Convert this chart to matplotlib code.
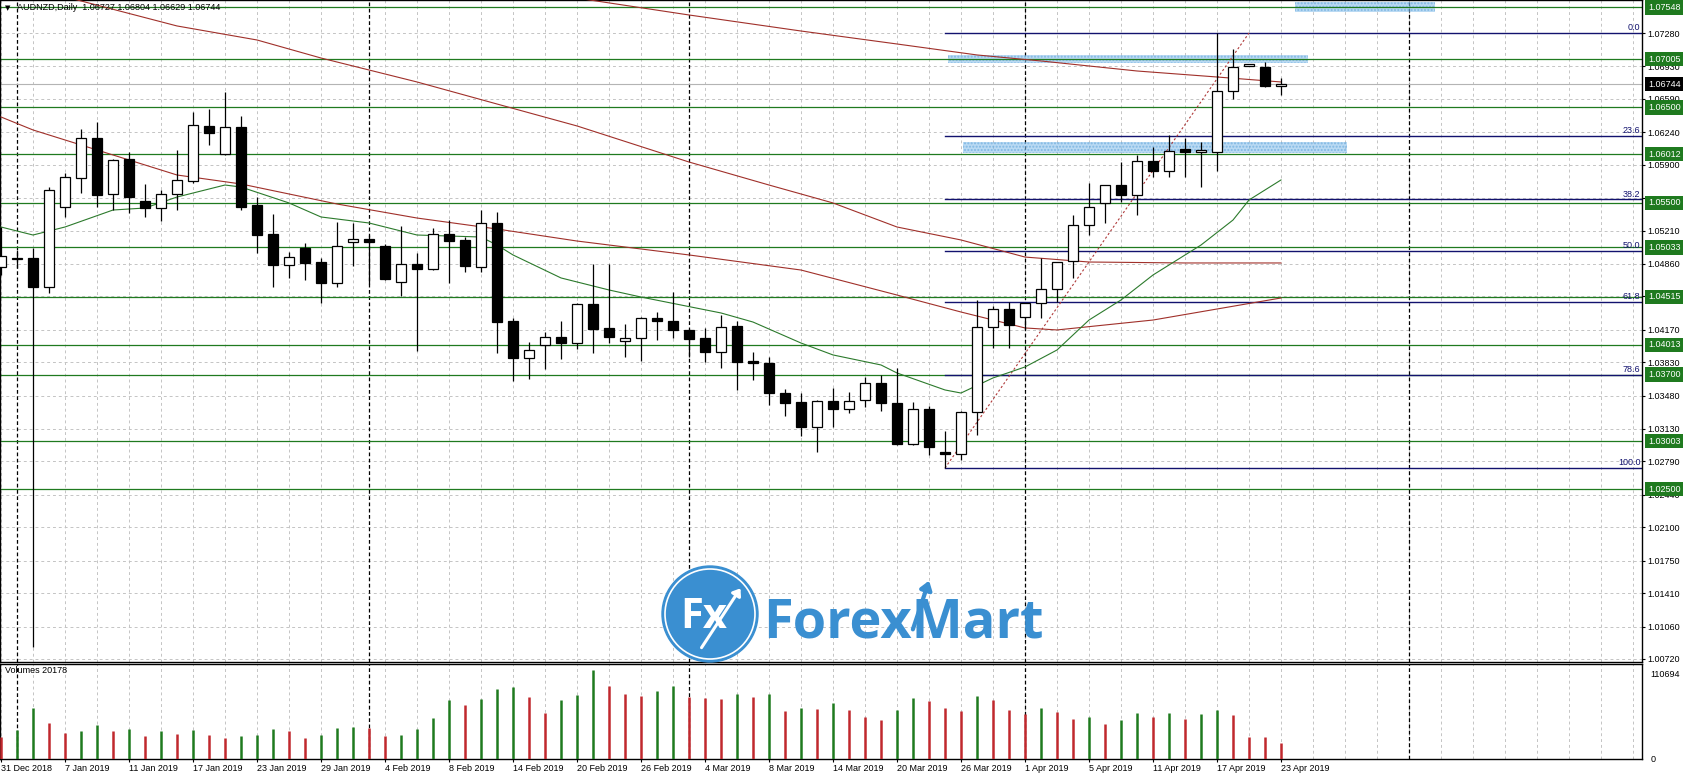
import numpy as np
import matplotlib
matplotlib.use('Agg')
import matplotlib.pyplot as plt
from matplotlib.patches import Rectangle, Ellipse, FancyArrowPatch
from matplotlib.transforms import blended_transform_factory

plt.rcParams['font.family'] = ['Liberation Sans', 'DejaVu Sans']

# ---- data (bar index 0 = 31 Dec 2018, one bar per trading day) ----
opens = [1.04828, 1.04912, 1.04922, 1.04618, 1.05457, 1.05761, 1.06180, 1.05593, 1.05960, 1.05519,
         1.05446, 1.05593, 1.05729, 1.06306, 1.06012, 1.06295, 1.05478, 1.05174, 1.04849, 1.05027,
         1.04880, 1.04660, 1.05090, 1.05121, 1.05048, 1.04671, 1.04859, 1.04807, 1.05174, 1.05111,
         1.04828, 1.05289, 1.04262, 1.03874, 1.04010, 1.04094, 1.04031, 1.04440, 1.04188, 1.04052,
         1.04084, 1.04293, 1.04262, 1.04168, 1.04084, 1.03937, 1.04209, 1.03843, 1.03822, 1.03507,
         1.03413, 1.03151, 1.03424, 1.03340, 1.03434, 1.03612, 1.03403, 1.02973, 1.03340, 1.02889,
         1.02868, 1.03308, 1.04199, 1.04388, 1.04304, 1.04451, 1.04597, 1.04891, 1.05268, 1.05499,
         1.05688, 1.05582, 1.05939, 1.05834, 1.06064, 1.06033, 1.06033, 1.06672, 1.06934, 1.06924,
         1.06727]
highs = [1.05247, 1.05006, 1.05027, 1.05666, 1.05813, 1.06274, 1.06347, 1.05960, 1.06033, 1.05698,
         1.05635, 1.06054, 1.06452, 1.06484, 1.06662, 1.06410, 1.05561, 1.05383, 1.04985, 1.05080,
         1.04922, 1.05300, 1.05289, 1.05163, 1.05069, 1.05258, 1.04975, 1.05237, 1.05320, 1.05142,
         1.05425, 1.05404, 1.04293, 1.04042, 1.04147, 1.04262, 1.04450, 1.04859, 1.04859, 1.04230,
         1.04304, 1.04356, 1.04566, 1.04178, 1.04188, 1.04325, 1.04262, 1.03937, 1.03885, 1.03549,
         1.03507, 1.03434, 1.03560, 1.03518, 1.03675, 1.03696, 1.03769, 1.03413, 1.03371, 1.03109,
         1.03319, 1.04482, 1.04419, 1.04461, 1.04451, 1.04922, 1.04880, 1.05373, 1.05708, 1.05688,
         1.05928, 1.06002, 1.06085, 1.06211, 1.06180, 1.06138, 1.07280, 1.07112, 1.06960, 1.06976,
         1.06804]
lows = [1.04744, 1.04817, 1.00846, 1.04556, 1.05352, 1.05603, 1.05457, 1.05425, 1.05394, 1.05352,
        1.05310, 1.05425, 1.05708, 1.06106, 1.06002, 1.05425, 1.04975, 1.04618, 1.04713, 1.04692,
        1.04451, 1.04618, 1.04838, 1.04650, 1.04692, 1.04524, 1.03948, 1.04796, 1.04660, 1.04775,
        1.04775, 1.03927, 1.03633, 1.03654, 1.03759, 1.03864, 1.03969, 1.03927, 1.04031, 1.03885,
        1.03843, 1.04063, 1.04084, 1.03885, 1.03832, 1.03769, 1.03539, 1.03644, 1.03382, 1.03266,
        1.03057, 1.02889, 1.03151, 1.03298, 1.03361, 1.03319, 1.02962, 1.02962, 1.02858, 1.02721,
        1.02805, 1.03067, 1.03979, 1.03979, 1.04168, 1.04293, 1.04461, 1.04713, 1.05163, 1.05289,
        1.05509, 1.05373, 1.05771, 1.05771, 1.05771, 1.05666, 1.05834, 1.06589, 1.06930, 1.06714,
        1.06629]
closes = [1.04943, 1.04922, 1.04618, 1.05635, 1.05771, 1.06180, 1.05582, 1.05949, 1.05561, 1.05446,
          1.05593, 1.05740, 1.06316, 1.06232, 1.06295, 1.05457, 1.05163, 1.04849, 1.04932, 1.04870,
          1.04660, 1.05048, 1.05121, 1.05090, 1.04702, 1.04859, 1.04807, 1.05174, 1.05100, 1.04838,
          1.05289, 1.04251, 1.03874, 1.03958, 1.04094, 1.04031, 1.04440, 1.04178, 1.04094, 1.04084,
          1.04293, 1.04262, 1.04168, 1.04073, 1.03937, 1.04199, 1.03832, 1.03822, 1.03507, 1.03403,
          1.03151, 1.03424, 1.03340, 1.03424, 1.03612, 1.03403, 1.02973, 1.03340, 1.02941, 1.02868,
          1.03308, 1.04199, 1.04388, 1.04220, 1.04451, 1.04597, 1.04880, 1.05268, 1.05457, 1.05688,
          1.05582, 1.05939, 1.05834, 1.06044, 1.06033, 1.06054, 1.06672, 1.06924, 1.06955, 1.06725,
          1.06744]
volumes = [27778, 36070, 63848, 45191, 32753, 34826, 42289, 34826, 37314, 29022,
           34826, 31095, 36070, 29851, 26120, 28607, 29851, 37314, 34826, 26120,
           29851, 38558, 39802, 38558, 28607, 29851, 37314, 50996, 73384, 67165,
           75043, 87066, 89554, 77116, 57215, 73384, 79603, 110694, 90797, 80847,
           78359, 84578, 90797, 76500, 76000, 75043, 80847, 77116, 80847, 59702,
           63434, 62190, 69653, 60946, 52240, 48508, 60946, 75872, 72140, 63434,
           59702, 78359, 73384, 60946, 55971, 63434, 58459, 49752, 52240, 43533,
           48508, 57215, 52240, 57215, 49752, 55971, 60946, 54727, 27364, 27000,
           20178]

# moving averages, read at a few bars
ma_a_x = [30, 37, 43, 50, 56, 61, 65, 71, 76, 80]
ma_a = [1.07794, 1.07621, 1.07469, 1.07301, 1.07165, 1.07050, 1.06987, 1.06882, 1.06819, 1.06767]
ma_b_x = [0, 5, 11, 16, 20, 26, 31, 36, 43, 48, 52, 56, 60, 64, 68, 74, 80]
ma_b = [1.07836, 1.07616, 1.07354, 1.07207, 1.07018, 1.06767, 1.06536, 1.06306, 1.05928, 1.05687,
        1.05499, 1.05247, 1.05111, 1.04932, 1.04880, 1.04870, 1.04870]
ma_c_x = [0, 2, 11, 15, 21, 26, 31, 36, 43, 50, 56, 60, 64, 66, 72, 80]
ma_c = [1.06400, 1.06264, 1.05792, 1.05698, 1.05488, 1.05341, 1.05226, 1.05100, 1.04954, 1.04796,
        1.04534, 1.04356, 1.04189, 1.04168, 1.04272, 1.04503]
ma_g_x = [0, 2, 4, 7, 9, 11, 14, 15, 18, 20, 23, 26, 30, 31, 32, 35, 38, 40, 45, 47, 50, 52,
          55, 56, 59, 60, 62, 64, 66, 68, 70, 72, 75, 77, 78, 80]
ma_g = [1.05247, 1.05163, 1.05247, 1.05425, 1.05446, 1.05561, 1.05687, 1.05666, 1.05499, 1.05352,
        1.05289, 1.05163, 1.05142, 1.05058, 1.04954, 1.04713, 1.04587, 1.04513, 1.04346, 1.04251,
        1.04031, 1.03906, 1.03801, 1.03717, 1.03539, 1.03507, 1.03665, 1.03780, 1.03958, 1.04272,
        1.04482, 1.04744, 1.05058, 1.05320, 1.05530, 1.05740]

levels = [1.07548, 1.07005, 1.06500, 1.06012, 1.05500, 1.05033, 1.04515, 1.04013, 1.03700, 1.03003, 1.02500]
last_price = 1.06744

fib_start, fib_end = 59, 78
fib_low, fib_high = 1.02721, 1.07280
fib_ratios = [0.0, 23.6, 38.2, 50.0, 61.8, 78.6, 100.0]

# hand drawn highlight zones: (x0, x1, y0, y1) in bars / price
zones = [(80.9, 89.6, 1.07500, 1.07605),
         (59.2, 81.7, 1.06966, 1.07050),
         (60.1, 84.1, 1.06023, 1.06138)]

price_ticks = [1.07280, 1.06930, 1.06590, 1.06240, 1.05900, 1.05550, 1.05210, 1.04860, 1.04520, 1.04170,
               1.03830, 1.03480, 1.03130, 1.02790, 1.02440, 1.02100, 1.01750, 1.01410, 1.01060, 1.00720]
date_ticks = list(range(0, 81, 4))
date_labels = ['31 Dec 2018', '7 Jan 2019', '11 Jan 2019', '17 Jan 2019', '23 Jan 2019', '29 Jan 2019',
               '4 Feb 2019', '8 Feb 2019', '14 Feb 2019', '20 Feb 2019', '26 Feb 2019', '4 Mar 2019',
               '8 Mar 2019', '14 Mar 2019', '20 Mar 2019', '26 Mar 2019', '1 Apr 2019', '5 Apr 2019',
               '11 Apr 2019', '17 Apr 2019', '23 Apr 2019']
month_starts = [1, 23, 43, 64, 88]

# ---- layout ----
W, H = 1689, 776
fig = plt.figure(figsize=(W / 100, H / 100), dpi=100)
fig.patch.set_facecolor('white')

def fx(px):
    return px / W

def fy(py):
    return 1 - py / H

ax = fig.add_axes([0, fy(662), fx(1642), 662 / H])
axv = fig.add_axes([0, fy(759), fx(1642), (759 - 664) / H])

XLIM = (-1 / 16, 1641 / 16)
GREEN = '#1f7a1f'
NAVY = '#12126e'
RED_MA = '#a0302a'
GRID = '#c4c4c4'
FS = 6.5

for a in (ax, axv):
    a.set_xlim(*XLIM)
    for s in a.spines.values():
        s.set_color('black')
        s.set_linewidth(1.0)
    for i in range(0, 103, 2):
        a.axvline(i, color=GRID, lw=0.7, ls=(0, (3, 3)), zorder=0)
    for m in month_starts:
        a.axvline(m, color='black', lw=0.9, ls=(0, (3, 2)), zorder=1)

# price pane
ax.set_ylim(1.00688, 1.07626)
for t in price_ticks:
    ax.axhline(t, color=GRID, lw=0.7, ls=(0, (3, 3)), zorder=0)
ax.yaxis.tick_right()
ax.set_yticks(price_ticks)
ax.set_yticklabels(['%.5f' % t for t in price_ticks])
ax.tick_params(axis='y', direction='out', length=2.5, width=0.8, pad=1.5, labelsize=FS)
ax.set_xticks([])

# brush-like highlight zones
for z in zones:
    ax.add_patch(Rectangle((z[0], z[2]), z[1] - z[0], z[3] - z[2], fc='#8cc2ec', ec='none',
                           alpha=0.6, zorder=2))
    ax.add_patch(Rectangle((z[0], z[2]), z[1] - z[0], z[3] - z[2], fc='none', ec='#4f9ad6',
                           hatch='.....', lw=0, alpha=0.5, zorder=2))

for lv in levels:
    ax.axhline(lv, color=GREEN, lw=0.9, zorder=2)
ax.axhline(last_price, color='#b4b4b4', lw=0.8, zorder=1)

rng = fib_high - fib_low
for r in fib_ratios:
    lv = fib_high - rng * r / 100
    ax.plot([fib_start, XLIM[1]], [lv, lv], color=NAVY, lw=1.0, zorder=2)
    ax.text(XLIM[1] - 0.1, lv + 0.00006, '%.1f' % r, color=NAVY, fontsize=FS,
            ha='right', va='bottom', zorder=5)
ax.plot([fib_start, fib_end], [fib_low, fib_high], color='#b03a3a', lw=0.8, ls=(0, (2, 2)), zorder=3)

ax.plot(ma_a_x, ma_a, color=RED_MA, lw=0.8, zorder=3)
ax.plot(ma_b_x, ma_b, color=RED_MA, lw=0.8, zorder=3)
ax.plot(ma_c_x, ma_c, color=RED_MA, lw=0.8, zorder=3)
ax.plot(ma_g_x, ma_g, color='#2c7a2c', lw=0.8, zorder=3)

x = np.arange(len(opens))
o = np.array(opens)
c = np.array(closes)
ax.vlines(x, lows, highs, color='black', lw=0.9, zorder=4)
body_lo = np.minimum(o, c)
body_h = np.maximum(np.abs(c - o), 0.00003)
face = ['white' if cc >= oo else 'black' for oo, cc in zip(o, c)]
ax.bar(x, body_h, bottom=body_lo, width=0.6, color=face, edgecolor='black', linewidth=0.9, zorder=5)

# right axis tags
tr = blended_transform_factory(ax.transAxes, ax.transData)
for lv in levels:
    ax.text(1 + 6 / 1642, lv, '%.5f' % lv, transform=tr, color='white', fontsize=FS, ha='left',
            va='center', clip_on=False, zorder=10,
            bbox=dict(boxstyle='square,pad=0.3', fc=GREEN, ec='none'))
ax.text(1 + 6 / 1642, last_price, '%.5f' % last_price, transform=tr, color='white', fontsize=FS,
        ha='left', va='center', clip_on=False, zorder=10,
        bbox=dict(boxstyle='square,pad=0.3', fc='black', ec='none'))

# volume pane
vmax = max(volumes)
axv.set_ylim(0, vmax * 95 / 89)
vcol = ['#c0282d'] + ['#1e7a1e' if volumes[i] > volumes[i - 1] else '#c0282d' for i in range(1, len(volumes))]
axv.vlines(x, 0, volumes, colors=vcol, lw=1.8, zorder=3)
axv.yaxis.tick_right()
axv.set_yticks([0, vmax])
axv.set_yticklabels(['0', str(vmax)])
axv.tick_params(axis='y', direction='out', length=0, pad=6, labelsize=FS)
axv.set_xticks(date_ticks)
axv.set_xticklabels(date_labels, ha='left')
axv.tick_params(axis='x', direction='out', length=2.5, width=0.8, pad=1, labelsize=FS)
for lab in axv.get_yticklabels():
    lab.set_verticalalignment('top' if lab.get_text() != '0' else 'center')
axv.text(5 / 1642, 0.93, 'Volumes %d' % volumes[-1], transform=axv.transAxes, fontsize=FS, va='center')

# header
fig.text(fx(5), fy(8), '\u25bc', fontsize=5, va='center', family='DejaVu Sans')
fig.text(fx(17), fy(8), 'AUDNZD,Daily  %.5f %.5f %.5f %.5f' % (opens[-1], highs[-1], lows[-1], closes[-1]),
         fontsize=FS, va='center')

# watermark logo
BLUE = '#3a8fd1'
fig.add_artist(Ellipse((fx(710), fy(614)), 2 * 48 / W, 2 * 48 / H, fc=BLUE, ec=BLUE, lw=1, zorder=6))
fig.add_artist(Ellipse((fx(710), fy(614)), 2 * 45 / W, 2 * 45 / H, fc='none', ec='white', lw=1.2, zorder=7))
fig.text(fx(704), fy(618), 'Fx', fontsize=30, fontweight='bold', color='white', ha='center', va='center',
         family='Open Sans', zorder=8)
fig.add_artist(FancyArrowPatch((fx(700), fy(650)), (fx(742), fy(586)),
                               arrowstyle='-|>,head_length=4,head_width=3',
                               color='white', lw=2.2, zorder=8))
fig.text(fx(763), fy(637), 'ForexMart', fontsize=39, fontweight='bold', color=BLUE, ha='left',
         va='baseline', family='Open Sans', zorder=6)
fig.add_artist(FancyArrowPatch((fx(912), fy(632)), (fx(930), fy(578)),
                               arrowstyle='-|>,head_length=5,head_width=3.5',
                               color=BLUE, lw=3, zorder=6))

fig.savefig('out.png', dpi=100, facecolor='white')
